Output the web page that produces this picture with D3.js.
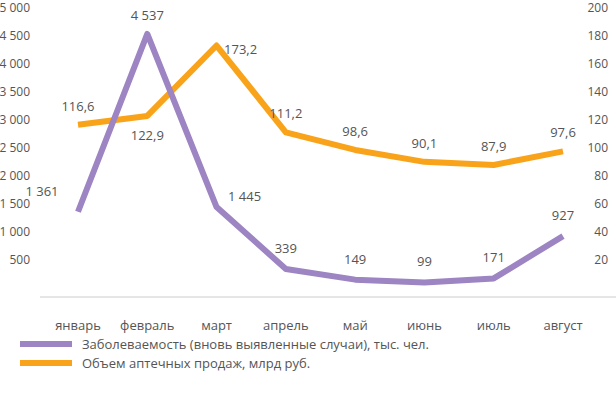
<!DOCTYPE html>
<html><head><meta charset="utf-8">
<script src="https://cdn.jsdelivr.net/npm/d3@7"></script>
<style>body{margin:0;background:#fff}text{font-family:"Open Sans",sans-serif;fill:#555}</style>
</head><body><svg id="c" width="616" height="400"></svg>
<script>
const months = ['январь','февраль','март','апрель','май','июнь','июль','август'];
const cases = [1361, 4537, 1445, 339, 149, 99, 171, 927];
const sales = [116.6, 122.9, 173.2, 111.2, 98.6, 90.1, 87.9, 97.6];
const leftTicks = [500,1000,1500,2000,2500,3000,3500,4000,4500,5000];
const rightTicks = [20,40,60,80,100,120,140,160,180,200];
const caseLabels = ['1 361','4 537','1 445','339','149','99','171','927'];
const salesLabels = ['116,6','122,9','173,2','111,2','98,6','90,1','87,9','97,6'];

const svg = d3.select('#c');
const x = d3.scalePoint().domain(months).range([78, 563]);
const yL = d3.scaleLinear().domain([0, 5000]).range([288, 8]);
const yR = d3.scaleLinear().domain([0, 200]).range([288, 8]);
const purple = '#9d84c2', orange = '#f9a31a';

// axes
svg.append('g').selectAll('text').data(leftTicks).join('text')
  .attr('x', 30).attr('y', d => yL(d) + 4).attr('text-anchor', 'end')
  .style('font-size', '12px').text(d => d3.format(',')(d).replace(',', ' '));
svg.append('g').selectAll('text').data(rightTicks).join('text')
  .attr('x', 608).attr('y', d => yR(d) + 4).attr('text-anchor', 'end')
  .style('font-size', '12px').text(d => d);
svg.append('line').attr('x1', 40).attr('x2', 616).attr('y1', 297).attr('y2', 297)
  .attr('stroke', '#ccc');
svg.append('g').selectAll('text').data(months).join('text')
  .attr('x', d => x(d)).attr('y', 330).attr('text-anchor', 'middle')
  .style('font-size', '13px').text(d => d);

// lines
const lineL = d3.line().x((d, i) => x(months[i])).y(d => yL(d));
const lineR = d3.line().x((d, i) => x(months[i])).y(d => yR(d));
svg.append('path').attr('d', lineR(sales)).attr('fill', 'none')
  .attr('stroke', orange).attr('stroke-width', 6).attr('stroke-linejoin', 'round');
svg.append('path').attr('d', lineL(cases)).attr('fill', 'none')
  .attr('stroke', purple).attr('stroke-width', 6).attr('stroke-linejoin', 'round');

// labels
const caseOff = [[-36, -16], [0, -14], [28, -6], [0, -16], [0, -16], [0, -16], [0, -16], [0, -16]];
const salesOff = [[0, -14], [0, 24], [24, 8], [0, -14], [0, -14], [0, -14], [0, -14], [0, -14]];
svg.append('g').selectAll('text').data(cases).join('text')
  .attr('x', (d, i) => x(months[i]) + caseOff[i][0]).attr('y', (d, i) => yL(d) + caseOff[i][1])
  .attr('text-anchor', 'middle').style('font-size', '13px').text((d, i) => caseLabels[i]);
svg.append('g').selectAll('text').data(sales).join('text')
  .attr('x', (d, i) => x(months[i]) + salesOff[i][0]).attr('y', (d, i) => yR(d) + salesOff[i][1])
  .attr('text-anchor', 'middle').style('font-size', '13px').text((d, i) => salesLabels[i]);

// legend
const legend = [['Заболеваемость (вновь выявленные случаи), тыс. чел.', purple], ['Объем аптечных продаж, млрд руб.', orange]];
legend.forEach(([t, c], i) => {
  const ly = 344 + i * 19;
  svg.append('line').attr('x1', 20).attr('x2', 72).attr('y1', ly).attr('y2', ly)
    .attr('stroke', c).attr('stroke-width', 6);
  svg.append('text').attr('x', 82).attr('y', ly + 5).style('font-size', '13px').text(t);
});
</script></body></html>
